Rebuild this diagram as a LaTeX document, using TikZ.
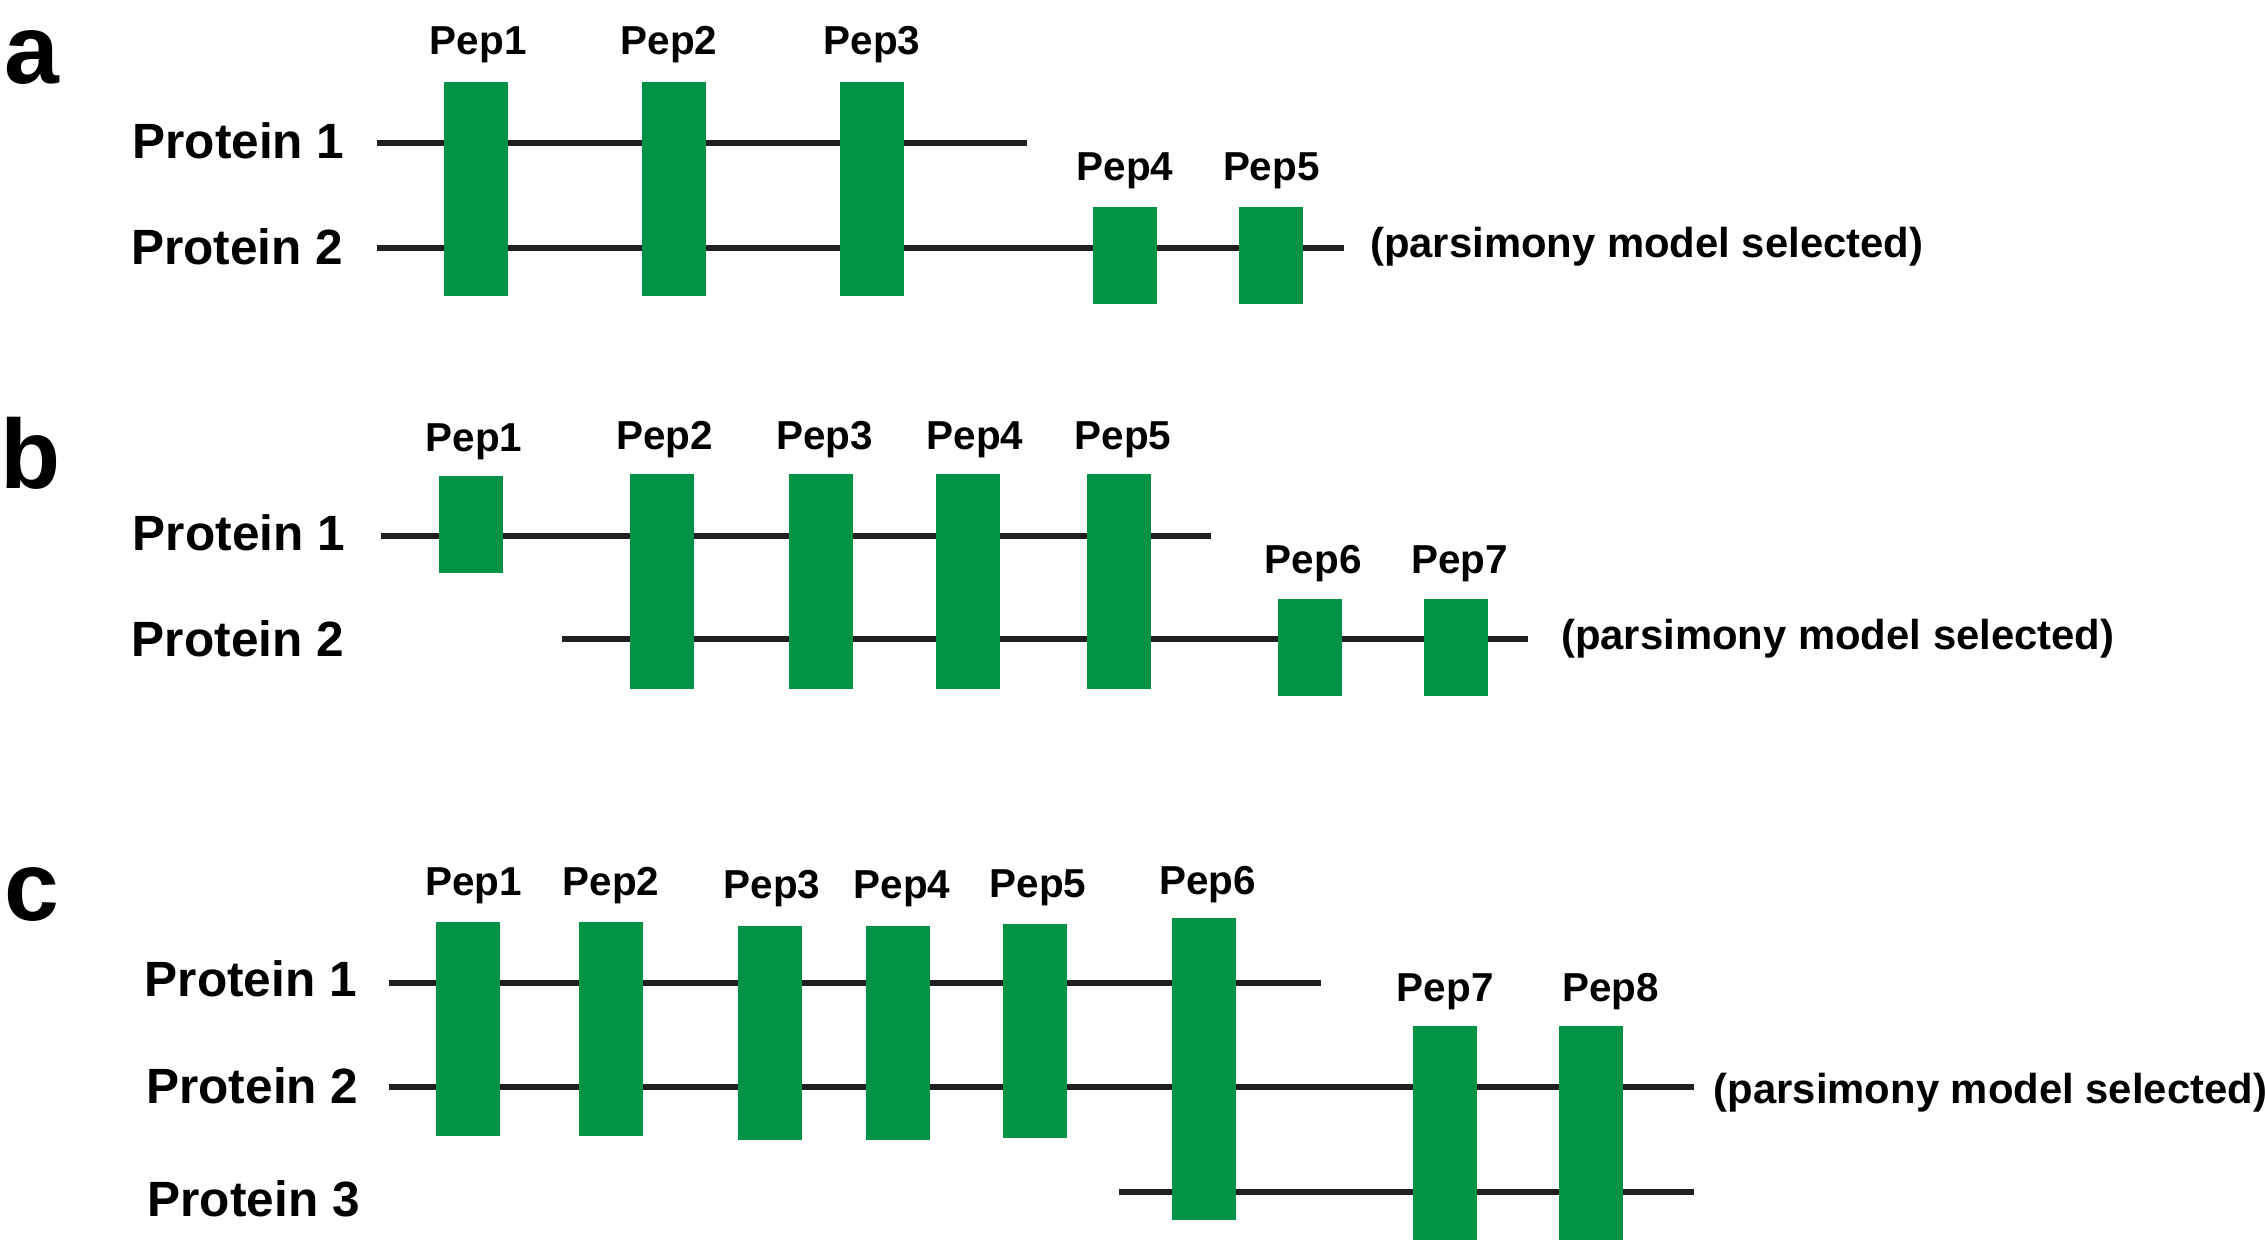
\documentclass[tikz,border=0pt]{standalone}
\usepackage{fontspec}
\setmainfont{Liberation Sans}
\usetikzlibrary{positioning}
\definecolor{pepgreen}{HTML}{009245}
\definecolor{linegray}{HTML}{231F20}
\tikzset{
  pep/.style={fill=pepgreen, minimum width=6.4mm, inner sep=0pt},
  peplab/.style={font=\bfseries\fontsize{11.5}{13}\selectfont, inner sep=0pt, anchor=base},
  prot/.style={font=\bfseries\fontsize{14.1}{16}\selectfont, inner sep=0pt, anchor=base east},
  note/.style={font=\bfseries\fontsize{11.9}{14}\selectfont, inner sep=0pt, anchor=base west},
  panel/.style={font=\bfseries\fontsize{28}{30}\selectfont, inner sep=0pt, anchor=base west},
  pline/.style={linegray, line width=1.7pt}
}
\begin{document}
\begin{tikzpicture}[x=0.14445mm, y=-0.14445mm]
\useasboundingbox (0,0) rectangle (1568,867.4);

% panel a
\node[panel] (la) at (2.5,58) {a};
\node[prot] (an1) at (239,109.4) {Protein 1};
\node[prot] (an2) at (238.1,183) {Protein 2};
\coordinate (a1s) at (261,99.2);
\coordinate (a1e) at (710.8,99.2);
\coordinate (a2s) at (261,171.5);
\coordinate (a2e) at (930.3,171.5);
\draw[pline] (a1s) -- (a1e);
\draw[pline] (a2s) -- (a2e);
\node[pep, minimum height=21.4mm] (a1) at (329.7,131) {};
\node[pep, minimum height=21.4mm] (a2) at (466.6,131) {};
\node[pep, minimum height=21.4mm] (a3) at (603.6,131) {};
\node[pep, minimum height=9.7mm] (a4) at (778.8,177.2) {};
\node[pep, minimum height=9.7mm] (a5) at (880.1,177.2) {};
\node[peplab] (a1l) at ([xshift=0.2mm, yshift=7.6pt]a1.north) {Pep1};
\node[peplab] (a2l) at ([xshift=-0.5mm, yshift=7.6pt]a2.north) {Pep2};
\node[peplab] (a3l) at ([yshift=7.6pt]a3.north) {Pep3};
\node[peplab] (a4l) at ([yshift=7.4pt]a4.north) {Pep4};
\node[peplab] (a5l) at ([yshift=7.4pt]a5.north) {Pep5};
\node[note] (anote) at ([xshift=2.56mm, yshift=-1.0mm]a2e) {(parsimony model selected)};

% panel b
\node[panel] (lb) at (0,338) {b};
\node[prot] (bn1) at (239.3,381.2) {Protein 1};
\node[prot] (bn2) at (238.6,454.6) {Protein 2};
\coordinate (b1s) at (264,370.8);
\coordinate (b1e) at (838,370.8);
\coordinate (b2s) at (389,442.6);
\coordinate (b2e) at (1058,442.6);
\draw[pline] (b1s) -- (b1e);
\draw[pline] (b2s) -- (b2e);
\node[pep, minimum height=9.75mm] (b1) at (326,363.2) {};
\node[pep, minimum height=21.5mm] (b2) at (458,402.5) {};
\node[pep, minimum height=21.5mm] (b3) at (568.5,402.5) {};
\node[pep, minimum height=21.5mm] (b4) at (670,402.5) {};
\node[pep, minimum height=21.5mm] (b5) at (774.5,402.5) {};
\node[pep, minimum height=9.7mm] (b6) at (907,448.5) {};
\node[pep, minimum height=9.7mm] (b7) at (1008,448.5) {};
\node[peplab] (b1l) at ([xshift=0.3mm, yshift=6.8pt]b1.north) {Pep1};
\node[peplab] (b2l) at ([xshift=0.3mm, yshift=6.8pt]b2.north) {Pep2};
\node[peplab] (b3l) at ([xshift=0.36mm, yshift=6.8pt]b3.north) {Pep3};
\node[peplab] (b4l) at ([xshift=0.72mm, yshift=6.8pt]b4.north) {Pep4};
\node[peplab] (b5l) at ([xshift=0.43mm, yshift=6.8pt]b5.north) {Pep5};
\node[peplab] (b6l) at ([xshift=0.3mm, yshift=7.3pt]b6.north) {Pep6};
\node[peplab] (b7l) at ([xshift=0.36mm, yshift=7.3pt]b7.north) {Pep7};
\node[note] (bnote) at ([xshift=3.22mm, yshift=-1.0mm]b2e) {(parsimony model selected)};

% panel c
\node[panel] (lc) at (2.3,637) {c};
\node[prot] (cn1) at (247.5,690) {Protein 1};
\node[prot] (cn2) at (248.6,763.7) {Protein 2};
\node[prot] (cn3) at (249.5,842.3) {Protein 3};
\coordinate (c1s) at (269,680.7);
\coordinate (c1e) at (914.3,680.7);
\coordinate (c2s) at (269,752.7);
\coordinate (c2e) at (1172.7,752.7);
\coordinate (c3s) at (774.5,825);
\coordinate (c3e) at (1172.7,825);
\draw[pline] (c1s) -- (c1e);
\draw[pline] (c2s) -- (c2e);
\draw[pline] (c3s) -- (c3e);
\node[pep, minimum height=21.45mm] (c1) at (324,712.2) {};
\node[pep, minimum height=21.45mm] (c2) at (423,712.2) {};
\node[pep, minimum height=21.4mm] (c3) at (533,715) {};
\node[pep, minimum height=21.4mm] (c4) at (622,715) {};
\node[pep, minimum height=21.4mm] (c5) at (716.2,713.9) {};
\node[pep, minimum height=30.2mm] (c6) at (833.6,740) {};
\node[pep, minimum height=21.4mm] (c7) at (1000.5,784.4) {};
\node[pep, minimum height=21.4mm] (c8) at (1101.5,784.4) {};
\node[peplab] (c1l) at ([xshift=0.58mm, yshift=7.1pt]c1.north) {Pep1};
\node[peplab] (c2l) at ([yshift=7.1pt]c2.north) {Pep2};
\node[peplab] (c3l) at ([xshift=0.2mm, yshift=7.7pt]c3.north) {Pep3};
\node[peplab] (c4l) at ([xshift=0.36mm, yshift=7.7pt]c4.north) {Pep4};
\node[peplab] (c5l) at ([xshift=0.36mm, yshift=7.4pt]c5.north) {Pep5};
\node[peplab] (c6l) at ([xshift=0.35mm, yshift=6.6pt]c6.north) {Pep6};
\node[peplab] (c7l) at ([yshift=6.9pt]c7.north) {Pep7};
\node[peplab] (c8l) at ([xshift=1.95mm, yshift=6.7pt]c8.north) {Pep8};
\node[note] (cnote) at ([xshift=1.92mm, yshift=-1.6mm]c2e) {(parsimony model selected)};
\end{tikzpicture}
\end{document}
